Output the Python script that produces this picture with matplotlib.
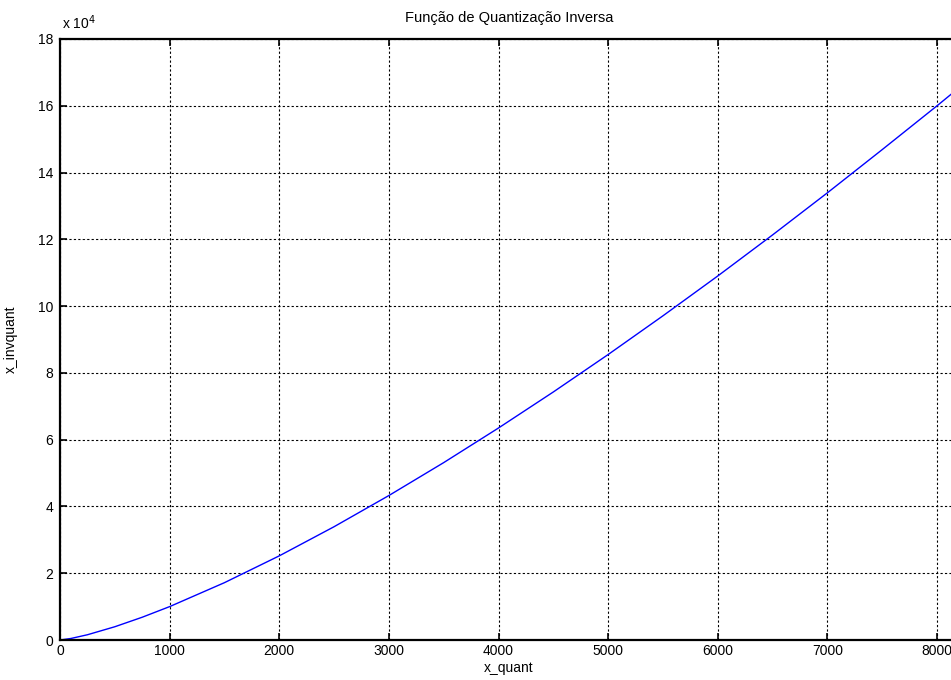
import matplotlib
matplotlib.use("Agg")
import matplotlib.pyplot as plt
from matplotlib.ticker import FuncFormatter

# Data
x_quant = [0, 100, 250, 500, 750, 1000, 1500, 2000, 2500, 3000, 3500, 4000,
           4500, 5000, 5500, 6000, 6500, 7000, 7500, 8000, 8191]
x_invquant = [0, 460, 1570, 3970, 6820, 10000, 17170, 25200, 33930, 43270,
              53130, 63500, 74290, 85500, 97100, 109030, 121330, 133940,
              146880, 160000, 165140]
xticks = [0, 1000, 2000, 3000, 4000, 5000, 6000, 7000, 8000]
yticks = [0, 20000, 40000, 60000, 80000, 100000, 120000, 140000, 160000, 180000]

plt.rcParams['font.family'] = ['Liberation Sans Narrow', 'Liberation Sans', 'DejaVu Sans']

fig = plt.figure(figsize=(9.51, 6.8), dpi=100)
ax = fig.add_axes([60/951, 40/680, (958-60)/951, 601/680])
ax.plot(x_quant, x_invquant, color='#0000ff', lw=1.0)
ax.set_xlim(0, 8191)
ax.set_ylim(0, 180000)
ax.set_xticks(xticks)
ax.set_yticks(yticks)
ax.yaxis.set_major_formatter(FuncFormatter(lambda v, p: f"{v/1e4:g}"))
ax.grid(True, color='black', linestyle=(0, (2, 2)), linewidth=0.8)
ax.tick_params(direction='in', top=True, right=True, length=5, width=1.2,
               labelsize=10, colors='black')
ax.tick_params(axis='x', pad=3)
ax.tick_params(axis='y', pad=5)
for s in ax.spines.values():
    s.set_linewidth(1.6)
ax.set_xlabel('x_quant', fontsize=10, labelpad=2)
ax.set_ylabel('x_invquant', fontsize=10, labelpad=14)
ax.set_title('Função de Quantização Inversa', fontsize=10.5, pad=12)
ax.text(0.002, 1.012, r'x 10$^{4}$', transform=ax.transAxes, fontsize=10,
        ha='left', va='bottom')
fig.savefig('out.png', dpi=100)
